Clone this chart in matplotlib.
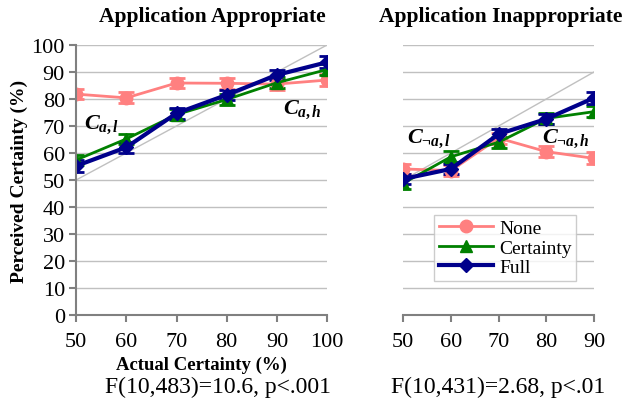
import numpy as np
import matplotlib
matplotlib.use("Agg")
import matplotlib.pyplot as plt
from matplotlib.lines import Line2D

plt.rcParams['font.family'] = ['Liberation Serif', 'DejaVu Serif']
plt.rcParams['mathtext.fontset'] = 'custom'
plt.rcParams['mathtext.it'] = 'Liberation Serif:italic:bold'
plt.rcParams['mathtext.rm'] = 'Liberation Serif:bold'

# data
x_app = [50, 60, 70, 80, 90, 100]
none_app = [81.8, 80.4, 85.9, 85.8, 85.5, 87.0]
cert_app = [57.4, 65.2, 74.2, 79.8, 86.0, 90.9]
full_app = [55.2, 62.1, 74.7, 81.5, 88.9, 93.6]
none_app_err = [2.0, 2.0, 2.0, 2.0, 2.0, 2.2]
cert_app_err = [2.0, 2.0, 2.0, 2.0, 2.0, 2.0]
full_app_err = [2.2, 2.0, 2.0, 2.0, 2.0, 2.2]

x_inapp = [50, 60, 70, 80, 90]
none_inapp = [54.1, 53.5, 65.5, 60.5, 58.0]
cert_inapp = [48.8, 58.6, 64.0, 72.8, 75.3]
full_inapp = [50.4, 54.1, 67.0, 72.6, 80.4]
none_inapp_err = [2.0, 2.0, 2.0, 2.0, 2.2]
cert_inapp_err = [2.0, 2.0, 2.0, 2.0, 2.0]
full_inapp_err = [2.0, 2.0, 2.0, 2.0, 2.2]

labels = ['None', 'Certainty', 'Full']
colors = ['#ff8080', '#008000', '#00008b']
markers = ['o', '^', 'D']
lws = [2, 2, 3]
msizes = [9, 8, 7]

fig = plt.figure(figsize=(6.34, 4.10), dpi=100)
ax1 = fig.add_axes([0.12, 0.229, 0.396, 0.659])
ax2 = fig.add_axes([0.636, 0.229, 0.301, 0.659])

grid_c = '#c0c0c0'
spine_c = '#808080'


def draw(ax, xs, ys, errs):
    for y, e, lab, c, m, lw, ms in zip(ys, errs, labels, colors, markers, lws, msizes):
        ax.errorbar(xs, y, yerr=e, color=c, marker=m, lw=lw, ms=ms,
                    capsize=6, capthick=2, elinewidth=1.5)
    ax.plot([xs[0], xs[-1]], [xs[0], xs[-1]], color='#c0c0c0', lw=1, zorder=1)
    ax.set_ylim(0, 100)
    ax.set_xlim(xs[0], xs[-1])
    ax.set_xticks(xs)
    ax.set_yticks(range(0, 101, 10))
    ax.yaxis.grid(True, color=grid_c, lw=1)
    ax.set_axisbelow(True)
    for s in ['top', 'right']:
        ax.spines[s].set_visible(False)
    ax.spines['bottom'].set_color(spine_c)
    ax.spines['bottom'].set_linewidth(1.5)
    ax.spines['left'].set_color(spine_c)
    ax.spines['left'].set_linewidth(1.5)
    ax.tick_params(axis='both', labelsize=16, color=spine_c, width=1.5, length=5)
    ax.tick_params(axis='x', pad=7)
    ax.tick_params(axis='y', pad=3)
    for t in ax.get_xticklabels() + ax.get_yticklabels():
        t.set_clip_on(False)


draw(ax1, x_app, [none_app, cert_app, full_app],
     [none_app_err, cert_app_err, full_app_err])
draw(ax2, x_inapp, [none_inapp, cert_inapp, full_inapp],
     [none_inapp_err, cert_inapp_err, full_inapp_err])

ax2.spines['left'].set_visible(False)
ax2.tick_params(axis='y', left=False, labelleft=False)

fig.text(0.03, 0.558, 'Perceived Certainty (%)', fontsize=14, fontweight='bold',
         rotation=90, ha='center', va='center')
fig.text(0.318, 0.108, 'Actual Certainty (%)', fontsize=13.5, fontweight='bold',
         ha='center', va='center')
fig.text(0.335, 0.958, 'Application Appropriate', fontsize=15.5, fontweight='bold',
         ha='center', va='center')
fig.text(0.789, 0.958, 'Application Inappropriate', fontsize=15.5, fontweight='bold',
         ha='center', va='center')

ax1.text(55, 71, r'$C_{a,l}$', fontsize=16, ha='center', va='center')
ax1.text(95, 76.5, r'$C_{a,h}$', fontsize=16, ha='center', va='center')
ax2.text(55.5, 65.5, r'$C_{\neg a,l}$', fontsize=16, ha='center', va='center')
ax2.text(84, 65.5, r'$C_{\neg a,h}$', fontsize=16, ha='center', va='center')

handles = [Line2D([], [], color=c, marker=m, lw=lw, ms=ms)
           for c, m, lw, ms in zip(colors, markers, lws, msizes)]
leg = ax2.legend(handles, labels, loc='upper left', bbox_to_anchor=(0.16, 0.372),
                 fontsize=14, frameon=True, fancybox=False, edgecolor='#c0c0c0',
                 handlelength=2.8, borderpad=0.25, labelspacing=0.1,
                 handletextpad=0.3, borderaxespad=0)
leg.get_frame().set_linewidth(1)

fig.text(0.344, 0.056, 'F(10,483)=10.6, p<.001', fontsize=17, ha='center', va='center')
fig.text(0.786, 0.056, 'F(10,431)=2.68, p<.01', fontsize=17, ha='center', va='center')

fig.savefig('out.png', dpi=100)
